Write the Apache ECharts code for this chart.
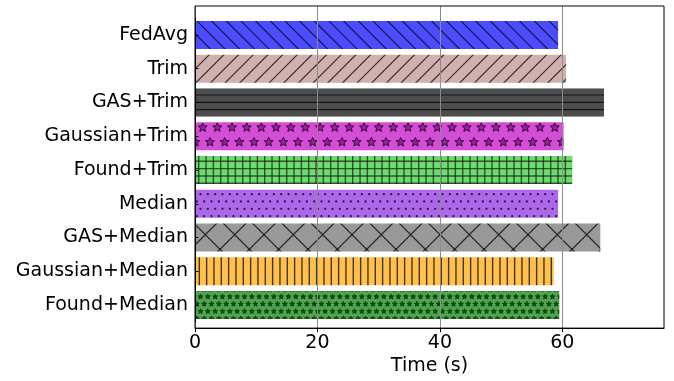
<!DOCTYPE html>
<html>
<head>
<meta charset="utf-8">
<script src="https://cdn.jsdelivr.net/npm/echarts@6/dist/echarts.min.js"></script>
<style>
html,body{margin:0;padding:0;background:#fff;}
#chart{width:674px;height:381px;}
</style>
</head>
<body>
<div id="chart"></div>
<script>
// ---- data ----
const categories = ['FedAvg', 'Trim', 'GAS+Trim', 'Gaussian+Trim', 'Found+Trim', 'Median', 'GAS+Median', 'Gaussian+Median', 'Found+Median'];
const times = [59.3, 60.6, 66.8, 60.2, 61.6, 59.3, 66.2, 58.6, 59.5];
const xTicks = [0, 20, 40, 60];
const xMax = 76.6;
const xName = 'Time (s)';

// ---- styles ----
const barColors = ['#4C4CFF', '#D1B0B0', '#4D4D4D', '#D54DD7', '#6DDB6D', '#AC68E9', '#999999', '#FFC04D', '#4CA64C'];
const hatches = ['\\', '/', '-', '*', '+', '.', 'x', '|', '**'];

const FONT = 'DejaVu Sans';
const T = 88, u = T / 12;

function starPath(ctx, cx, cy, R, r) {
  ctx.beginPath();
  for (let i = 0; i < 10; i++) {
    const rad = (i % 2 === 0) ? R : r;
    const a = -Math.PI / 2 + i * Math.PI / 5;
    const x = cx + rad * Math.cos(a), y = cy + rad * Math.sin(a);
    if (i === 0) ctx.moveTo(x, y); else ctx.lineTo(x, y);
  }
  ctx.closePath();
}

function makePattern(base, hatch) {
  const c = document.createElement('canvas');
  c.width = T; c.height = T;
  const ctx = c.getContext('2d');
  ctx.fillStyle = base;
  ctx.fillRect(0, 0, T, T);
  ctx.strokeStyle = 'rgba(0,0,0,0.72)';
  ctx.lineWidth = 1.2;
  const line = (x1, y1, x2, y2) => { ctx.beginPath(); ctx.moveTo(x1, y1); ctx.lineTo(x2, y2); ctx.stroke(); };
  if (hatch === '\\') {
    for (let k = -14; k <= 14; k++) { const c0 = k * 2 * u; line(c0, 0, c0 + T, T); }
  } else if (hatch === '/') {
    for (let k = 0; k <= 26; k++) { const c0 = k * 2 * u; line(c0, 0, c0 - T, T); }
  } else if (hatch === 'x') {
    ctx.lineWidth = 1.3;
    for (let k = -4; k <= 8; k++) { const c0 = k * 4 * u; line(c0, 0, c0 + T, T); line(c0, 0, c0 - T, T); }
  } else if (hatch === '-') {
    for (let j = -1; j <= 12; j++) { const y = 7.0 + j * u; line(0, y, T, y); }
  } else if (hatch === '|') {
    ctx.lineWidth = 1.4;
    for (let i = -1; i <= 12; i++) { const x = 1.3 + i * u; line(x, 0, x, T); }
  } else if (hatch === '+') {
    ctx.lineWidth = 1.4;
    ctx.strokeStyle = 'rgba(0,0,0,0.6)';
    for (let i = -1; i <= 12; i++) { const x = 0.7 + i * u; line(x, 0, x, T); }
    for (let j = -1; j <= 12; j++) { const y = 7.3 + j * u; line(0, y, T, y); }
  } else if (hatch === '.') {
    ctx.fillStyle = 'rgba(0,0,0,0.75)';
    for (let j = -1; j <= 12; j++) {
      for (let i = -1; i <= 12; i++) {
        const x = 2.5 + i * u + (j % 2 ? u / 2 : 0), y = 3.5 + j * u;
        ctx.beginPath(); ctx.arc(x, y, 1.15, 0, Math.PI * 2); ctx.fill();
      }
    }
  } else if (hatch === '*') {
    ctx.fillStyle = '#9A1FA3';
    ctx.lineWidth = 1;
    for (let j = -1; j <= 6; j++) {
      for (let i = -1; i <= 6; i++) {
        const x = 12.0 + i * 2 * u + (Math.abs(j) % 2 ? u : 0), y = 10.17 + j * 2 * u;
        starPath(ctx, x, y, 4.8, 2.2); ctx.fill(); ctx.stroke();
      }
    }
  } else if (hatch === '**') {
    ctx.fillStyle = '#145014';
    ctx.strokeStyle = 'rgba(0,0,0,0.55)';
    ctx.lineWidth = 0.8;
    for (let j = -1; j <= 12; j++) {
      for (let i = -1; i <= 12; i++) {
        const x = 2.5 + i * u + (Math.abs(j) % 2 ? u / 2 : 0), y = 3.37 + j * u;
        starPath(ctx, x, y, 2.7, 1.2); ctx.fill(); ctx.stroke();
      }
    }
  }
  return { image: c, repeat: 'repeat' };
}

const barData = times.map((v, i) => ({
  value: v,
  itemStyle: { color: makePattern(barColors[i], hatches[i]) }
}));

const chart = echarts.init(document.getElementById('chart'), null, { renderer: 'canvas' });
chart.setOption({
  animation: false,
  backgroundColor: '#fff',
  textStyle: { fontFamily: FONT },
  grid: [
    { left: 195, right: 10, top: 6, bottom: 50, show: true, borderColor: '#000', borderWidth: 1, backgroundColor: 'transparent', z: 10 },
    { left: 195, right: 10, top: 18, height: 304, containLabel: false }
  ],
  xAxis: [
    {
      gridIndex: 0, type: 'value', min: 0, max: xMax, interval: 20, z: 5,
      name: xName, nameLocation: 'middle', nameGap: 26,
      nameTextStyle: { fontSize: 19, color: '#000', fontFamily: FONT },
      axisLine: { show: true, lineStyle: { color: '#000', width: 1 } },
      axisTick: { show: true, length: 4, lineStyle: { color: '#000' }, customValues: xTicks },
      axisLabel: { fontSize: 19, color: '#000', margin: 5, fontFamily: FONT, customValues: xTicks },
      splitLine: { show: true, lineStyle: { color: '#8c8c8c', width: 1 } }
    },
    { gridIndex: 1, type: 'value', min: 0, max: xMax, show: false, splitLine: { show: false } }
  ],
  yAxis: [
    { gridIndex: 0, type: 'value', min: 0, max: 1, show: false, splitLine: { show: false } },
    {
      gridIndex: 1, type: 'category', data: categories, inverse: true, z: 6,
      axisLine: { show: true, lineStyle: { color: '#000', width: 1 } },
      axisTick: { show: true, inside: true, length: 3.5, alignWithLabel: true, lineStyle: { color: '#000' } },
      axisLabel: { fontSize: 19, color: '#000', margin: 7, fontFamily: FONT },
      splitLine: { show: false }
    }
  ],
  series: [{
    type: 'bar', xAxisIndex: 1, yAxisIndex: 1, barWidth: 28,
    data: barData
  }]
});
</script>
</body>
</html>
